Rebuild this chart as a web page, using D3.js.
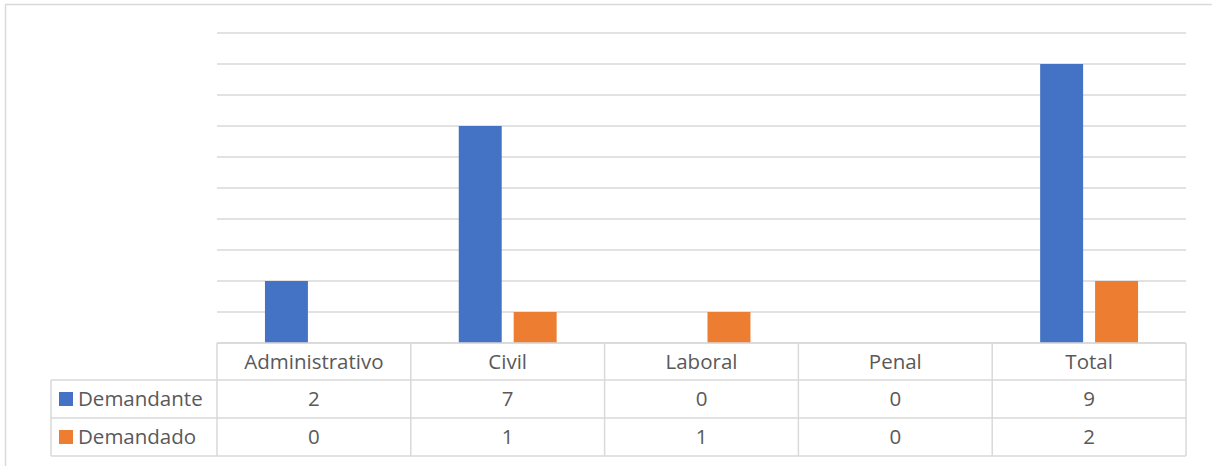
<!DOCTYPE html>
<html>
<head>
<meta charset="utf-8">
<script src="https://cdn.jsdelivr.net/npm/d3@7"></script>
<style>
  body { margin: 0; background: #fff; }
  text { font-family: "Open Sans", "Noto Sans", sans-serif; fill: #595959; }
</style>
</head>
<body>
<div class="chart"></div>
<script>
(function() {

  // data
  var categories = ['Administrativo', 'Civil', 'Laboral', 'Penal', 'Total'];
  var seriesNames = ['Demandante', 'Demandado'];
  var demandante = [2, 7, 0, 0, 9];
  var demandado = [0, 1, 1, 0, 2];
  var yTicks = [0, 1, 2, 3, 4, 5, 6, 7, 8, 9, 10];

  var colors = ['#4472C4', '#ED7D31'];
  var series = [demandante, demandado];

  var svg = d3.select('.chart')
    .append('svg')
    .attr('width', 1212)
    .attr('height', 466);

  // outer frame of the chart area
  svg.append('rect')
    .attr('x', 5.5)
    .attr('y', 4.5)
    .attr('width', 1220)
    .attr('height', 480)
    .attr('fill', 'none')
    .attr('stroke', '#d9d9d9')
    .attr('stroke-width', 1.5);

  var left = 217, right = 1186, top = 33, base = 343;

  var x = d3.scaleBand().domain(categories).range([left, right]);
  var y = d3.scaleLinear().domain([0, 10]).range([base, top]);

  // gridlines
  svg.selectAll('line.grid').data(yTicks).enter()
    .append('line')
    .attr('class', 'grid')
    .attr('x1', left)
    .attr('x2', right)
    .attr('y1', function(d) { return y(d); })
    .attr('y2', function(d) { return y(d); })
    .attr('stroke', '#d9d9d9')
    .attr('stroke-width', 1.5);

  // bars
  var inner = d3.scaleBand().domain([0, 1])
    .range([0, x.bandwidth()])
    .paddingInner(0.218)
    .paddingOuter(0.873);

  series.forEach(function(vals, s) {
    svg.selectAll('rect.s' + s).data(vals).enter()
      .append('rect')
      .attr('class', 's' + s)
      .attr('x', function(d, i) { return x(categories[i]) + inner(s); })
      .attr('y', function(d) { return y(d); })
      .attr('width', inner.bandwidth())
      .attr('height', function(d) { return base - y(d); })
      .attr('fill', colors[s]);
  });

  // data table
  var rowH = [base, 380, 418, 456];
  var legLeft = 51;
  var g = svg.append('g')
    .attr('stroke', '#d9d9d9')
    .attr('stroke-width', 1.5);

  // horizontal lines
  g.append('line').attr('x1', left).attr('x2', right).attr('y1', rowH[0]).attr('y2', rowH[0]);
  [rowH[1], rowH[2], rowH[3]].forEach(function(yy) {
    g.append('line').attr('x1', legLeft).attr('x2', right).attr('y1', yy).attr('y2', yy);
  });
  // vertical lines
  g.append('line').attr('x1', legLeft).attr('x2', legLeft).attr('y1', rowH[1]).attr('y2', rowH[3]);
  categories.forEach(function(c) {
    g.append('line').attr('x1', x(c)).attr('x2', x(c)).attr('y1', rowH[0]).attr('y2', rowH[3]);
  });
  g.append('line').attr('x1', right).attr('x2', right).attr('y1', rowH[0]).attr('y2', rowH[3]);

  var fs = '20.5px';

  // header labels
  svg.selectAll('text.cat').data(categories).enter()
    .append('text')
    .attr('class', 'cat')
    .attr('x', function(d) { return x(d) + x.bandwidth() / 2; })
    .attr('y', (rowH[0] + rowH[1]) / 2)
    .attr('dy', '0.35em')
    .attr('text-anchor', 'middle')
    .style('font-size', fs)
    .text(function(d) { return d; });

  // rows
  series.forEach(function(vals, s) {
    var cy = (rowH[s + 1] + rowH[s + 2]) / 2;
    svg.append('rect')
      .attr('x', 59)
      .attr('y', cy - 7)
      .attr('width', 14)
      .attr('height', 14)
      .attr('fill', colors[s]);
    svg.append('text')
      .attr('x', 78)
      .attr('y', cy)
      .attr('dy', '0.35em')
      .style('font-size', fs)
      .text(seriesNames[s]);
    svg.selectAll('text.v' + s).data(vals).enter()
      .append('text')
      .attr('class', 'v' + s)
      .attr('x', function(d, i) { return x(categories[i]) + x.bandwidth() / 2; })
      .attr('y', cy)
      .attr('dy', '0.35em')
      .attr('text-anchor', 'middle')
      .style('font-size', fs)
      .text(function(d) { return d; });
  });

})();
</script>
</body>
</html>
